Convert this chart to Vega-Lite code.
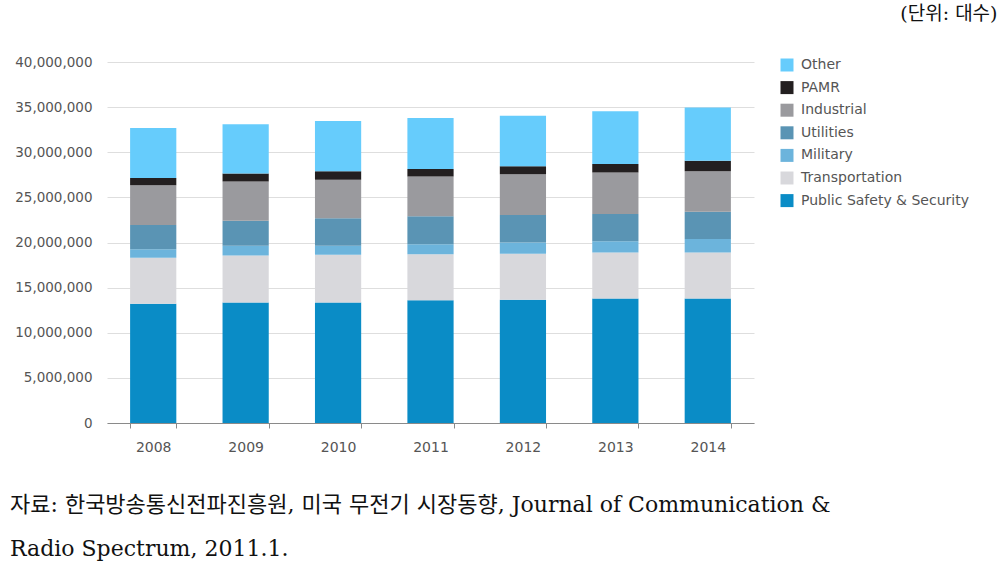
{
  "$schema": "https://vega.github.io/schema/vega-lite/v6.json",
  "width": 647,
  "height": 361,
  "autosize": {"type": "none"},
  "padding": {"left": 107, "top": 62, "right": 250, "bottom": 146},
  "background": "#ffffff",
  "title": {
    "text": ["자료: 한국방송통신전파진흥원, 미국 무전기 시장동향, Journal of Communication &", "Radio Spectrum, 2011.1."],
    "orient": "bottom",
    "anchor": "start",
    "frame": "group",
    "dx": -97,
    "offset": 41,
    "fontSize": 22,
    "font": "DejaVu Serif, Noto Sans CJK KR",
    "fontWeight": "normal",
    "color": "#111111",
    "lineHeight": 44,
    "baseline": "top"
  },
  "data": {
    "values": [
      {"year": "2008", "category": "Public Safety & Security", "units": 13200000},
      {"year": "2008", "category": "Transportation", "units": 5100000},
      {"year": "2008", "category": "Military", "units": 950000},
      {"year": "2008", "category": "Utilities", "units": 2700000},
      {"year": "2008", "category": "Industrial", "units": 4400000},
      {"year": "2008", "category": "PAMR", "units": 800000},
      {"year": "2008", "category": "Other", "units": 5550000},
      {"year": "2009", "category": "Public Safety & Security", "units": 13350000},
      {"year": "2009", "category": "Transportation", "units": 5200000},
      {"year": "2009", "category": "Military", "units": 1100000},
      {"year": "2009", "category": "Utilities", "units": 2750000},
      {"year": "2009", "category": "Industrial", "units": 4350000},
      {"year": "2009", "category": "PAMR", "units": 900000},
      {"year": "2009", "category": "Other", "units": 5450000},
      {"year": "2010", "category": "Public Safety & Security", "units": 13350000},
      {"year": "2010", "category": "Transportation", "units": 5300000},
      {"year": "2010", "category": "Military", "units": 1000000},
      {"year": "2010", "category": "Utilities", "units": 3050000},
      {"year": "2010", "category": "Industrial", "units": 4250000},
      {"year": "2010", "category": "PAMR", "units": 950000},
      {"year": "2010", "category": "Other", "units": 5550000},
      {"year": "2011", "category": "Public Safety & Security", "units": 13600000},
      {"year": "2011", "category": "Transportation", "units": 5100000},
      {"year": "2011", "category": "Military", "units": 1100000},
      {"year": "2011", "category": "Utilities", "units": 3100000},
      {"year": "2011", "category": "Industrial", "units": 4400000},
      {"year": "2011", "category": "PAMR", "units": 850000},
      {"year": "2011", "category": "Other", "units": 5650000},
      {"year": "2012", "category": "Public Safety & Security", "units": 13650000},
      {"year": "2012", "category": "Transportation", "units": 5100000},
      {"year": "2012", "category": "Military", "units": 1250000},
      {"year": "2012", "category": "Utilities", "units": 3050000},
      {"year": "2012", "category": "Industrial", "units": 4500000},
      {"year": "2012", "category": "PAMR", "units": 900000},
      {"year": "2012", "category": "Other", "units": 5600000},
      {"year": "2013", "category": "Public Safety & Security", "units": 13800000},
      {"year": "2013", "category": "Transportation", "units": 5100000},
      {"year": "2013", "category": "Military", "units": 1250000},
      {"year": "2013", "category": "Utilities", "units": 3000000},
      {"year": "2013", "category": "Industrial", "units": 4600000},
      {"year": "2013", "category": "PAMR", "units": 950000},
      {"year": "2013", "category": "Other", "units": 5850000},
      {"year": "2014", "category": "Public Safety & Security", "units": 13800000},
      {"year": "2014", "category": "Transportation", "units": 5100000},
      {"year": "2014", "category": "Military", "units": 1500000},
      {"year": "2014", "category": "Utilities", "units": 3000000},
      {"year": "2014", "category": "Industrial", "units": 4500000},
      {"year": "2014", "category": "PAMR", "units": 1150000},
      {"year": "2014", "category": "Other", "units": 5900000}
    ]
  },
  "transform": [
    {"calculate": "indexof(['Public Safety & Security', 'Transportation', 'Military', 'Utilities', 'Industrial', 'PAMR', 'Other'], datum.category)", "as": "stackOrder"}
  ],
  "mark": {"type": "bar"},
  "encoding": {
    "x": {
      "field": "year",
      "type": "ordinal",
      "scale": {"paddingInner": 0.5, "paddingOuter": 0.25},
      "axis": {
        "title": null,
        "labelAngle": 0,
        "labelFont": "DejaVu Sans",
        "labelFontSize": 14,
        "labelColor": "#555555",
        "labelPadding": 12,
        "domainColor": "#8a8a8a",
        "tickColor": "#8a8a8a",
        "tickSize": 5,
        "tickBand": "extent",
        "grid": false
      }
    },
    "y": {
      "field": "units",
      "type": "quantitative",
      "stack": "zero",
      "scale": {"domain": [0, 40000000], "nice": false},
      "axis": {
        "title": "(단위: 대수)",
        "titleAngle": 0,
        "titleAlign": "right",
        "titleBaseline": "middle",
        "titleX": 890,
        "titleY": -49,
        "titleFont": "DejaVu Serif, Noto Sans CJK KR",
        "titleFontSize": 19,
        "titleFontWeight": "normal",
        "titleColor": "#111111",
        "values": [0, 5000000, 10000000, 15000000, 20000000, 25000000, 30000000, 35000000, 40000000],
        "format": ",d",
        "labelFont": "DejaVu Sans",
        "labelFontSize": 13.5,
        "labelColor": "#555555",
        "labelPadding": 15,
        "domain": false,
        "ticks": false,
        "grid": true,
        "gridColor": "#dedede",
        "gridWidth": 1
      }
    },
    "order": {"field": "stackOrder", "type": "quantitative", "sort": "ascending"},
    "color": {
      "field": "category",
      "type": "nominal",
      "scale": {
        "domain": ["Other", "PAMR", "Industrial", "Utilities", "Military", "Transportation", "Public Safety & Security"],
        "range": ["#66ccfc", "#231f20", "#9a9a9e", "#5a94b4", "#6cb4dc", "#d8d8dc", "#0a8cc6"]
      },
      "legend": {
        "title": null,
        "orient": "none",
        "legendX": 673,
        "legendY": -4,
        "symbolType": "square",
        "symbolSize": 169,
        "symbolStrokeWidth": 0,
        "symbolOpacity": 1,
        "labelFont": "DejaVu Sans",
        "labelFontSize": 14,
        "labelColor": "#555555",
        "labelOffset": 7,
        "labelLimit": 300,
        "rowPadding": 8.6,
        "padding": 0
      }
    }
  },
  "config": {
    "view": {"stroke": null},
    "bar": {"stroke": null}
  }
}
